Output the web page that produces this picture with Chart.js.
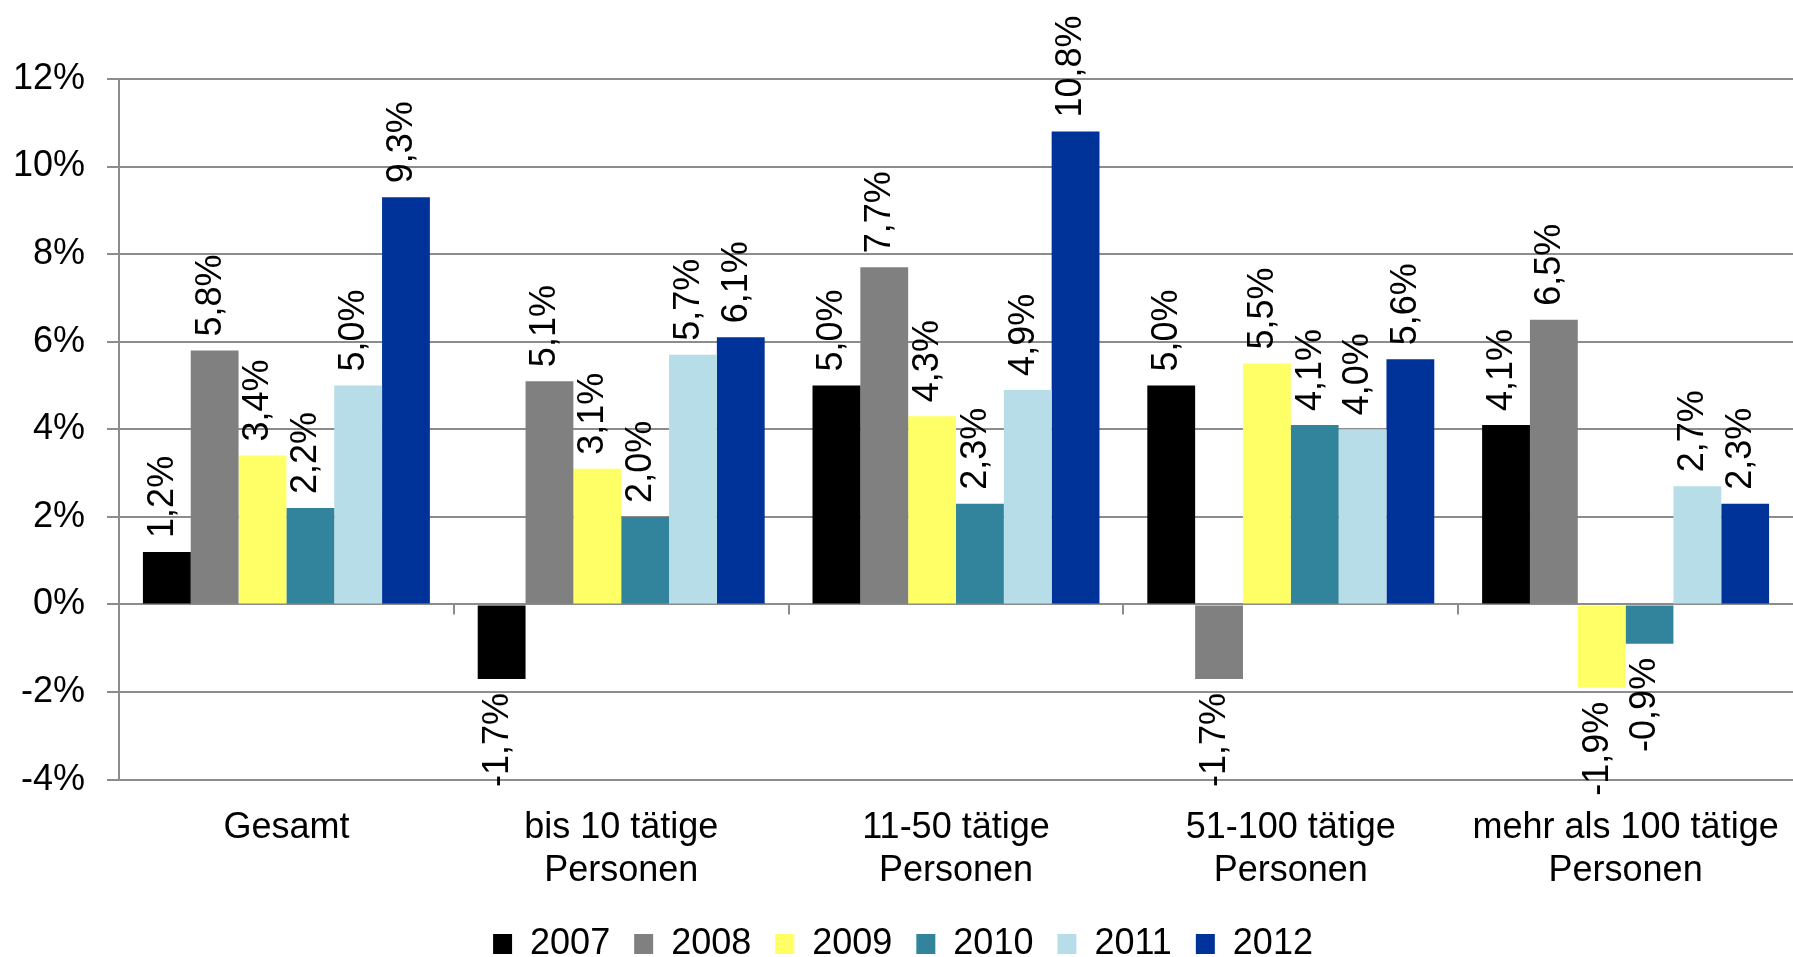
<!DOCTYPE html>
<html>
<head>
<meta charset="utf-8">
<script src="https://cdn.jsdelivr.net/npm/chart.js@4"></script>
<style>
  html, body { margin: 0; padding: 0; background: #fff; overflow: hidden; }
  #wrap { width: 1793px; height: 957px; }
</style>
</head>
<body>
<div id="wrap"><canvas id="chart"></canvas></div>
<script>
// Veränderung nach Betriebsgröße, 2007–2012
const categories = [
  'Gesamt',
  ['bis 10 tätige', 'Personen'],
  ['11-50 tätige', 'Personen'],
  ['51-100 tätige', 'Personen'],
  ['mehr als 100 tätige', 'Personen'],
];
const years = ['2007', '2008', '2009', '2010', '2011', '2012'];
const v2007 = [1.2, -1.7, 5.0, 5.0, 4.1];
const v2008 = [5.8, 5.1, 7.7, -1.7, 6.5];
const v2009 = [3.4, 3.1, 4.3, 5.5, -1.9];
const v2010 = [2.2, 2.0, 2.3, 4.1, -0.9];
const v2011 = [5.0, 5.7, 4.9, 4.0, 2.7];
const v2012 = [9.3, 6.1, 10.8, 5.6, 2.3];
const yTicks = [-4, -2, 0, 2, 4, 6, 8, 10, 12];

const colors = ['#000000', '#808080', '#FFFF66', '#31849B', '#B7DEE8', '#003399'];
const FONT = 'Liberation Sans, Arial, sans-serif';
const GRID = '#8c8c8c';

const fmt = v => v.toFixed(1).replace('.', ',') + '%';

// Werte senkrecht über bzw. unter dem Balkenende
const valueLabels = {
  id: 'valueLabels',
  afterDatasetsDraw(chart) {
    const ctx = chart.ctx;
    ctx.save();
    ctx.font = '36px ' + FONT;
    ctx.fillStyle = '#000';
    ctx.textBaseline = 'middle';
    chart.data.datasets.forEach((ds, di) => {
      chart.getDatasetMeta(di).data.forEach((bar, i) => {
        const v = ds.data[i];
        ctx.save();
        if (v >= 0) {
          ctx.translate(bar.x - 4, bar.y - 14);
          ctx.textAlign = 'left';
        } else {
          ctx.translate(bar.x - 4, bar.y + 14);
          ctx.textAlign = 'right';
        }
        ctx.rotate(-Math.PI / 2);
        ctx.fillText(fmt(v), 0, 0);
        ctx.restore();
      });
    });
    ctx.restore();
  },
};

// kleine Teilstriche zwischen den Kategorien auf der 0-Linie
const catTicks = {
  id: 'catTicks',
  beforeDatasetsDraw(chart) {
    const x = chart.scales.x, y = chart.scales.y;
    const y0 = y.getPixelForValue(0);
    const ctx = chart.ctx;
    ctx.save();
    ctx.strokeStyle = GRID;
    ctx.lineWidth = 2;
    for (let i = 1; i < categories.length; i++) {
      const px = Math.round((x.getPixelForValue(i - 1) + x.getPixelForValue(i)) / 2);
      ctx.beginPath();
      ctx.moveTo(px, y0);
      ctx.lineTo(px, y0 + 10);
      ctx.stroke();
    }
    ctx.restore();
  },
};

const series = [v2007, v2008, v2009, v2010, v2011, v2012];

new Chart(document.getElementById('chart'), {
  type: 'bar',
  data: {
    labels: categories,
    datasets: series.map((d, i) => ({
      label: years[i],
      data: d,
      backgroundColor: colors[i],
      borderWidth: 0,
      barPercentage: 1,
      categoryPercentage: 6 / 7,
    })),
  },
  options: {
    responsive: true,
    maintainAspectRatio: false,
    animation: false,
    layout: { padding: { top: 79, left: 13, right: 0, bottom: -15 } },
    plugins: {
      tooltip: { enabled: false },
      legend: {
        position: 'bottom',
        labels: {
          boxWidth: 19,
          boxHeight: 20,
          padding: 24,
          color: '#000',
          font: { family: FONT, size: 36 },
        },
      },
    },
    scales: {
      x: {
        grid: { display: false },
        border: { display: false },
        afterFit: axis => {
          axis.paddingLeft = 0;
          axis.paddingRight = 0;
          axis.height -= 10;
        },
        ticks: {
          color: '#000',
          padding: 19,
          maxRotation: 0,
          minRotation: 0,
          autoSkip: false,
          font: { family: FONT, size: 36, lineHeight: 1.2 },
        },
      },
      y: {
        min: -4,
        max: 12,
        afterBuildTicks: axis => { axis.ticks = yTicks.map(v => ({ value: v })); },
        afterFit: axis => { axis.width = 106; },
        grid: { color: GRID, lineWidth: 2, tickLength: 12 },
        border: { color: GRID, width: 2 },
        ticks: {
          color: '#000',
          padding: 22,
          font: { family: FONT, size: 36 },
          callback: v => v + '%',
        },
      },
    },
  },
  plugins: [valueLabels, catTicks],
});
</script>
</body>
</html>
